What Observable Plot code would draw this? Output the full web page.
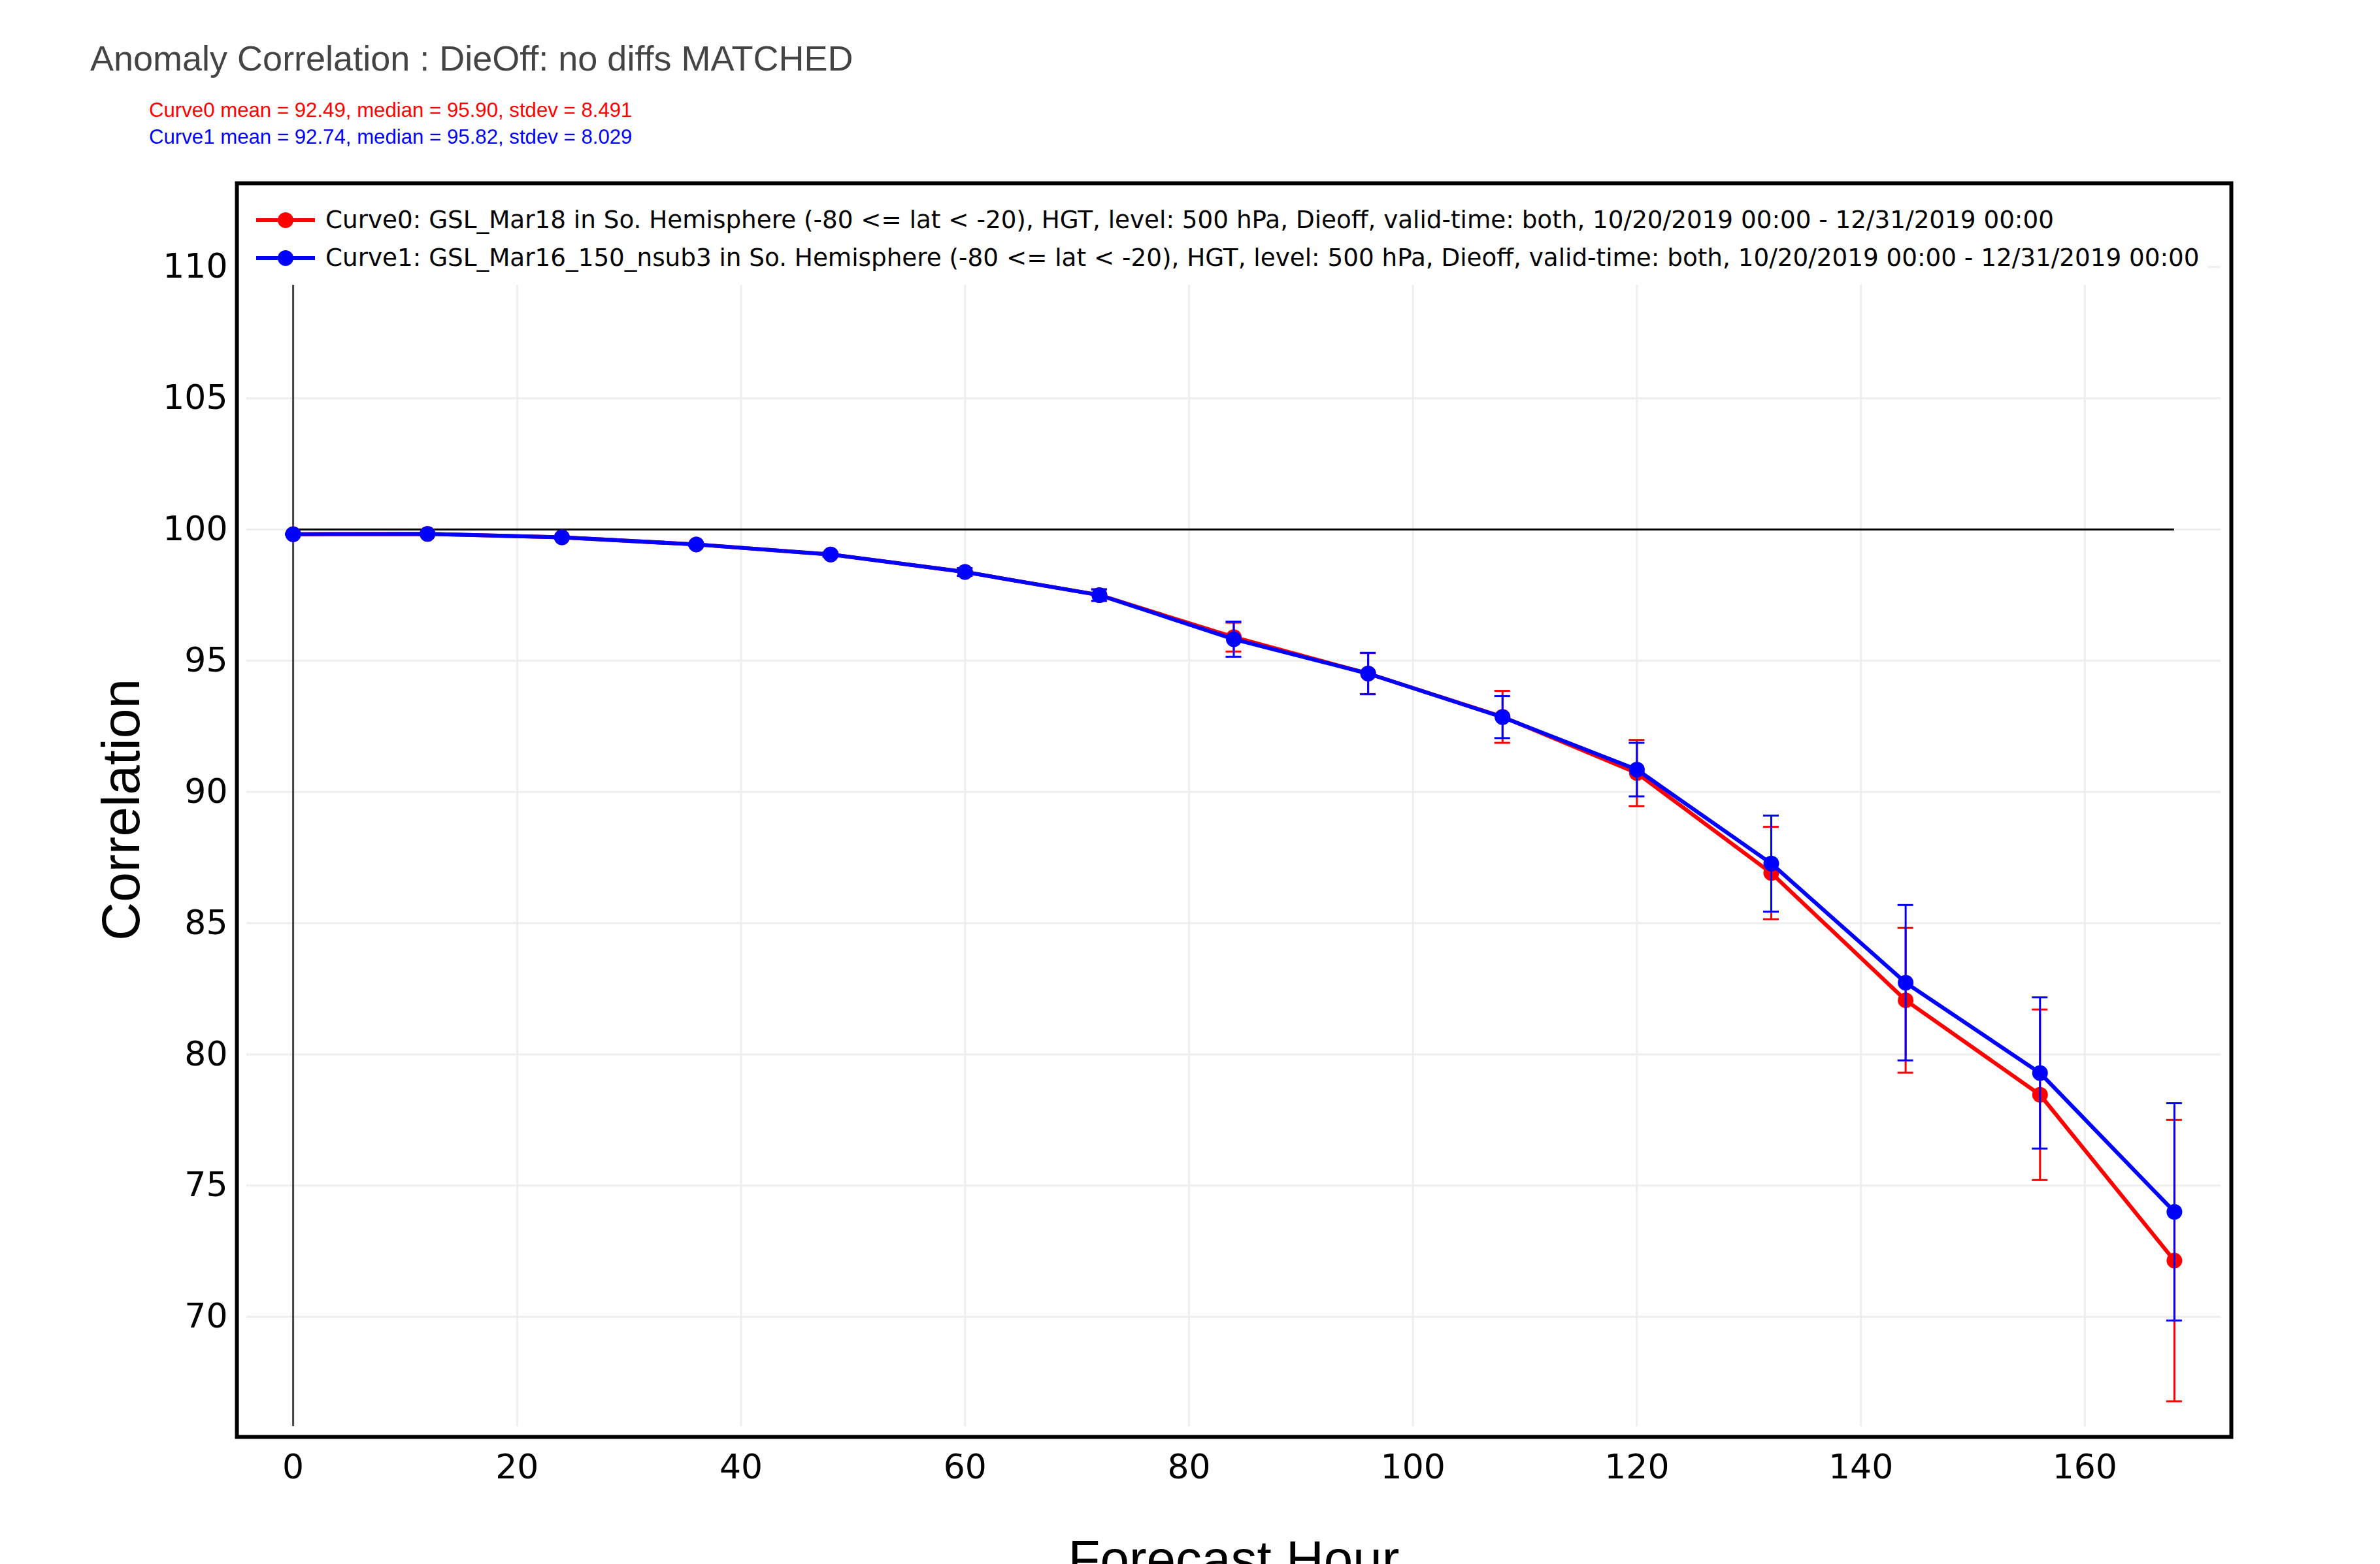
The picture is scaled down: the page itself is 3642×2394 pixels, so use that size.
<!DOCTYPE html>
<html>
<head>
<meta charset="utf-8">
<script src="https://cdn.jsdelivr.net/npm/d3@7"></script>
<script src="https://cdn.jsdelivr.net/npm/@observablehq/plot@0.6"></script>
<style>
  html, body { margin: 0; padding: 0; background: white; }
  #wrap { position: relative; width: 3642px; height: 2394px; overflow: hidden; background: white; }
  .hdr { position: absolute; white-space: nowrap; font-family: "Liberation Sans", Arial, sans-serif; line-height: 1; }
  #chart { position: absolute; left: 0; top: 250px; }
  #legend { position: absolute; left: 366px; top: 284px; width: 3012px; height: 152px; background: white; }
  .leg-row { position: absolute; left: 0; height: 40px; display: flex; align-items: center; }
  .leg-text { font-family: "DejaVu Sans", Verdana, sans-serif; font-size: 37.3px; line-height: 1; color: black; white-space: nowrap; }
</style>
</head>
<body>
<div id="wrap">
  <div id="title" class="hdr"></div>
  <div id="stats"></div>
  <div id="chart"></div>
  <div id="legend"></div>
</div>
<script>
// ---- data ----
const titleText = "Anomaly Correlation : DieOff: no diffs MATCHED";
const seriesNames = ["Curve0", "Curve1"];
const seriesColors = ["#ff0000", "#0000ff"];
const statsLines = [
  "Curve0 mean = 92.49, median = 95.90, stdev = 8.491",
  "Curve1 mean = 92.74, median = 95.82, stdev = 8.029"
];
const legendLabels = [
  "Curve0: GSL_Mar18 in So. Hemisphere (-80 <= lat < -20), HGT, level: 500 hPa, Dieoff, valid-time: both, 10/20/2019 00:00 - 12/31/2019 00:00",
  "Curve1: GSL_Mar16_150_nsub3 in So. Hemisphere (-80 <= lat < -20), HGT, level: 500 hPa, Dieoff, valid-time: both, 10/20/2019 00:00 - 12/31/2019 00:00"
];
const hours  = [0, 12, 24, 36, 48, 60, 72, 84, 96, 108, 120, 132, 144, 156, 168];
const curve0 = [99.82, 99.83, 99.70, 99.43, 99.05, 98.38, 97.50, 95.90, 94.51, 92.86, 90.72, 86.91, 82.06, 78.46, 72.14];
const err0   = [0.02, 0.02, 0.03, 0.05, 0.08, 0.15, 0.22, 0.55, 0.78, 0.99, 1.26, 1.76, 2.76, 3.25, 5.36];
const curve1 = [99.82, 99.83, 99.70, 99.43, 99.05, 98.38, 97.50, 95.82, 94.51, 92.85, 90.85, 87.27, 82.73, 79.29, 74.00];
const err1   = [0.02, 0.02, 0.03, 0.05, 0.08, 0.15, 0.22, 0.67, 0.79, 0.80, 1.02, 1.83, 2.96, 2.88, 4.14];
const xTicks = [0, 20, 40, 60, 80, 100, 120, 140, 160];
const yTicks = [70, 75, 80, 85, 90, 95, 100, 105, 110];
const refValue = 100;
const xDomain = [-4.15, 172.15];
const yDomain = [65.82, 112.82];
const xLabel = "Forecast Hour";
const yLabel = "Correlation";

// ---- build table ----
const valuesBySeries = [curve0, curve1];
const errsBySeries = [err0, err1];
const series = seriesNames.map((name, si) => hours.map((h, i) => ({
  series: name, hour: h, value: valuesBySeries[si][i],
  lo: valuesBySeries[si][i] - errsBySeries[si][i],
  hi: valuesBySeries[si][i] + errsBySeries[si][i]
})));

// ---- header ----
const title = document.getElementById("title");
title.textContent = titleText;
Object.assign(title.style, {left: "138px", top: "62px", fontSize: "54px", color: "#444"});
const stats = document.getElementById("stats");
statsLines.forEach((t, i) => {
  const d = document.createElement("div");
  d.className = "hdr";
  d.textContent = t;
  Object.assign(d.style, {left: "228px", top: (153 + 41 * i) + "px", fontSize: "31.2px", color: seriesColors[i]});
  stats.appendChild(d);
});

// ---- plot ----
const seriesMarks = series.flatMap((rows, si) => {
  const c = seriesColors[si];
  return [
    Plot.line(rows, {x: "hour", y: "value", stroke: c, strokeWidth: 6}),
    Plot.ruleX(rows, {x: "hour", y1: "lo", y2: "hi", stroke: c, strokeWidth: 3}),
    Plot.ruleY(rows, {y: "lo", x1: "hour", x2: "hour", insetLeft: -12, insetRight: -12, stroke: c, strokeWidth: 3}),
    Plot.ruleY(rows, {y: "hi", x1: "hour", x2: "hour", insetLeft: -12, insetRight: -12, stroke: c, strokeWidth: 3}),
    Plot.dot(rows, {x: "hour", y: "value", r: 12, fill: c, stroke: "none"})
  ];
});

const chart = Plot.plot({
  width: 3642,
  height: 2200,
  marginLeft: 377,
  marginRight: 244,
  marginTop: 45,
  marginBottom: 267,
  style: {fontFamily: "DejaVu Sans, Verdana, sans-serif", fontSize: "52px", color: "black", background: "white", overflow: "visible"},
  x: {domain: xDomain, ticks: xTicks, tickSize: 0, tickPadding: 43, label: null, tickFormat: d => String(d)},
  y: {domain: yDomain, ticks: yTicks, tickSize: 0, tickPadding: 29, label: null, tickFormat: d => String(d)},
  marks: [
    Plot.ruleY(yTicks, {stroke: "#eeeeee", strokeWidth: 3}),
    Plot.ruleX(xTicks, {stroke: "#eeeeee", strokeWidth: 3}),
    Plot.ruleX([hours[0]], {stroke: "#444", strokeWidth: 3}),
    Plot.ruleY([refValue], {x1: hours[0], x2: hours[hours.length - 1], stroke: "black", strokeWidth: 3}),
    ...seriesMarks,
    Plot.text([yLabel], {frameAnchor: "left", textAnchor: "middle", dx: -191, rotate: -90, fontSize: 82, fontFamily: "Liberation Sans, Arial, sans-serif", fill: "black"}),
    Plot.text([xLabel], {frameAnchor: "bottom", textAnchor: "middle", dy: 174, lineAnchor: "top", fontSize: 80, fontFamily: "Liberation Sans, Arial, sans-serif", fill: "black"}),
    Plot.frame({stroke: "black", strokeWidth: 6, insetLeft: -15, insetTop: -15, insetRight: -16, insetBottom: -16})
  ]
});
document.getElementById("chart").appendChild(chart);

// ---- legend (inside the plot frame, white box) ----
const legend = document.getElementById("legend");
const rowCenters = [337, 395];
legendLabels.forEach((lbl, i) => {
  const row = document.createElement("div");
  row.className = "leg-row";
  row.style.top = (rowCenters[i] - 284 - 20) + "px";
  const sym = d3.create("svg").attr("width", 132).attr("height", 40).style("flex", "none");
  sym.append("line").attr("x1", 26).attr("x2", 116).attr("y1", 20).attr("y2", 20)
    .attr("stroke", seriesColors[i]).attr("stroke-width", 6);
  sym.append("circle").attr("cx", 71).attr("cy", 20).attr("r", 12).attr("fill", seriesColors[i]);
  row.appendChild(sym.node());
  const t = document.createElement("span");
  t.className = "leg-text";
  t.textContent = lbl;
  row.appendChild(t);
  legend.appendChild(row);
});
</script>
</body>
</html>
